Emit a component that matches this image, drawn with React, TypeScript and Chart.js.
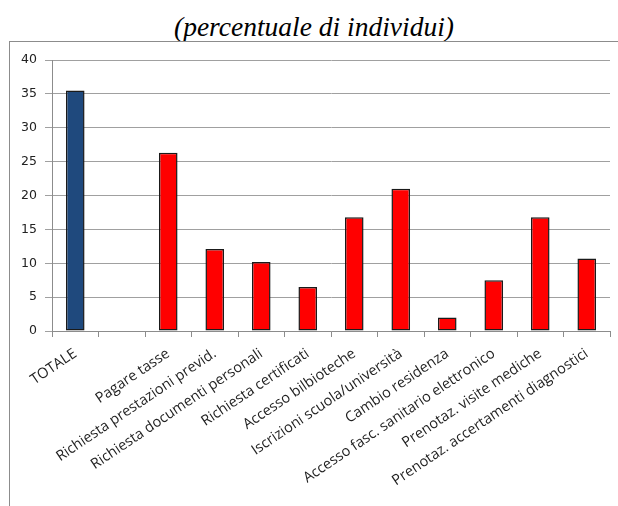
import React, { useEffect, useRef } from "react";
import { Chart, registerables } from "chart.js";

Chart.register(...registerables);

const categories: string[] = [
  "TOTALE",
  "",
  "Pagare tasse",
  "Richiesta prestazioni previd.",
  "Richiesta documenti personali",
  "Richiesta certificati",
  "Accesso bilbioteche",
  "Iscrizioni scuola/università",
  "Cambio residenza",
  "Accesso fasc. sanitario elettronico",
  "Prenotaz. visite mediche",
  "Prenotaz. accertamenti diagnostici",
];

const values: (number | null)[] = [35.5, null, 26.3, 12.1, 10.2, 6.5, 16.8, 21.0, 2.0, 7.5, 16.8, 10.7];

const barColors: string[] = [
  "#1F497D", "#FF0000", "#FF0000", "#FF0000", "#FF0000", "#FF0000",
  "#FF0000", "#FF0000", "#FF0000", "#FF0000", "#FF0000", "#FF0000",
];

const yTicks = { min: 0, max: 40, step: 5 };

export default function App() {
  const ref = useRef<HTMLCanvasElement | null>(null);

  useEffect(() => {
    if (!ref.current) return;
    const chart = new Chart(ref.current, {
      type: "bar",
      data: {
        labels: categories,
        datasets: [
          {
            data: values,
            backgroundColor: barColors,
            borderColor: "#1a1a1a",
            borderWidth: 1.5,
            borderSkipped: false,
            categoryPercentage: 1,
            barPercentage: 0.4,
          },
        ],
      },
      options: {
        animation: false,
        responsive: false,
        maintainAspectRatio: false,
        layout: { padding: { left: 0, right: 8, top: 18, bottom: 0 } },
        plugins: { legend: { display: false }, title: { display: false }, tooltip: { enabled: false } },
        scales: {
          x: {
            grid: {
              offset: true,
              drawOnChartArea: false,
              drawTicks: true,
              tickLength: 6,
              color: "#8c8c8c",
            },
            border: { color: "#8c8c8c" },
            ticks: {
              autoSkip: false,
              maxRotation: 34,
              minRotation: 34,
              padding: 8,
              color: "#222",
              font: { family: "Open Sans", size: 14.5 },
            },
            afterFit: (scale: any) => {
              scale.height = 175;
            },
          },
          y: {
            min: yTicks.min,
            max: yTicks.max,
            ticks: {
              stepSize: yTicks.step,
              padding: 8,
              color: "#222",
              font: { family: "DejaVu Sans", size: 12.5 },
            },
            grid: { color: "#a0a0a0", tickLength: 7, lineWidth: 1 },
            border: { color: "#8c8c8c" },
            afterFit: (scale: any) => {
              scale.width = 42;
            },
          },
        },
      },
    });
    return () => chart.destroy();
  }, []);

  return (
    <div style={{ position: "fixed", left: 0, top: 0, width: 618, height: 506, background: "#fff", overflow: "hidden" }}>
      <div
        style={{
          position: "absolute",
          left: 0,
          top: 10,
          width: 628,
          textAlign: "center",
          fontFamily: "Liberation Serif",
          fontStyle: "italic",
          fontSize: 27.5,
          lineHeight: "34px",
          color: "#000",
        }}
      >
        (percentuale di individui)
      </div>
      <div
        style={{
          position: "absolute",
          left: 9,
          top: 41,
          width: 700,
          height: 600,
          border: "1px solid #8c8c8c",
          boxSizing: "border-box",
        }}
      />
      <canvas ref={ref} width={608} height={464} style={{ position: "absolute", left: 10, top: 42, width: 608, height: 464 }} />
    </div>
  );
}
